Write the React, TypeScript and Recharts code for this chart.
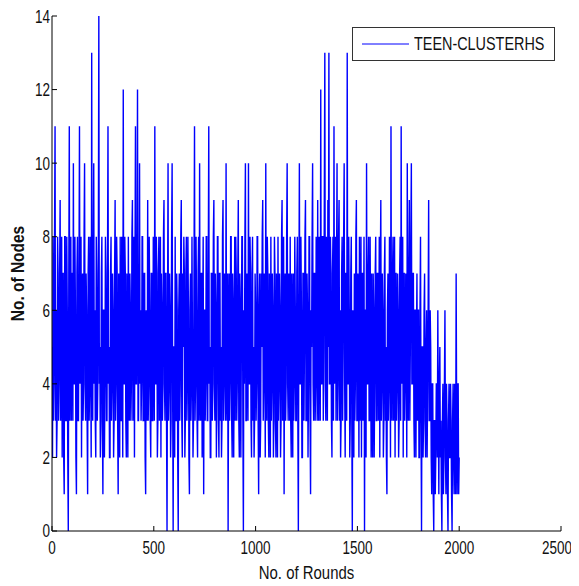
import React from 'react';
import { LineChart, Line, XAxis, YAxis, Legend } from 'recharts';

const seriesName = 'TEEN-CLUSTERHS';
const roundStep = 5;
const xTicks = [0, 500, 1000, 1500, 2000, 2500];
const yTicks = [0, 2, 4, 6, 8, 10, 12, 14];

// node counts read at rounds 0, 5, 10, ... (one row = 100 rounds)
const nodesA0 = [5, 8, 4, 11, 6, 3, 7, 4, 9, 5, 2, 7, 1, 8, 3, 6, 0, 11, 5, 3];
const nodesA1 = [7, 10, 4, 6, 1, 8, 3, 11, 5, 2, 7, 4, 10, 3, 6, 1, 8, 4, 5, 13];
const nodesA2 = [3, 10, 6, 2, 7, 4, 14, 5, 3, 8, 1, 6, 4, 7, 3, 11, 5, 2, 8, 4];
const nodesA3 = [6, 3, 9, 4, 7, 1, 5, 8, 3, 6, 12, 4, 7, 2, 5, 8, 3, 6, 4, 9];
const nodesA4 = [5, 2, 11, 4, 12, 3, 10, 6, 4, 8, 3, 7, 1, 5, 9, 4, 6, 2, 7, 3];
const nodesA5 = [6, 11, 4, 7, 3, 8, 5, 2, 6, 4, 9, 3, 7, 0, 10, 4, 6, 3, 10, 0];
const nodesA6 = [5, 8, 3, 6, 0, 7, 4, 9, 2, 5, 7, 3, 8, 4, 6, 1, 7, 4, 5, 3];
const nodesA7 = [11, 4, 6, 2, 8, 10, 3, 7, 5, 1, 6, 4, 8, 3, 11, 5, 2, 7, 4, 9];
const nodesA8 = [3, 6, 4, 8, 2, 7, 5, 3, 9, 4, 6, 10, 3, 0, 7, 4, 8, 2, 6, 5];
const nodesA9 = [3, 7, 4, 9, 2, 6, 5, 8, 0, 4, 10, 3, 6, 10, 4, 7, 2, 8, 5, 3];
const nodesA10 = [6, 4, 8, 1, 7, 3, 5, 9, 4, 6, 10, 3, 7, 2, 5, 8, 4, 6, 3, 7];
const nodesA11 = [2, 5, 8, 4, 6, 3, 9, 5, 1, 7, 4, 10, 3, 6, 8, 2, 5, 7, 4, 6];
const nodesA12 = [3, 8, 0, 10, 4, 6, 2, 7, 5, 9, 3, 6, 4, 8, 1, 5, 10, 3, 7, 4];
const nodesA13 = [6, 9, 3, 7, 12, 4, 8, 5, 13, 3, 6, 9, 13, 4, 7, 2, 8, 11, 5, 3];
const nodesA14 = [10, 4, 9, 6, 3, 8, 5, 10, 2, 7, 13, 4, 6, 3, 8, 0, 5, 7, 4, 9];
const nodesA15 = [3, 6, 8, 4, 2, 7, 5, 0, 6, 10, 4, 8, 3, 5, 7, 2, 6, 4, 8, 3];
const nodesA16 = [7, 5, 2, 9, 4, 6, 3, 8, 5, 1, 7, 4, 6, 11, 3, 8, 5, 2, 7, 4];
const nodesA17 = [6, 3, 8, 11, 5, 2, 7, 4, 6, 10, 3, 9, 5, 10, 4, 7, 2, 6, 5, 3];
const nodesA18 = [6, 2, 8, 0, 5, 3, 7, 2, 6, 4, 9, 3, 5, 1, 4, 0, 3, 2, 4, 6];
const nodesA19 = [1, 5, 3, 0, 4, 2, 6, 1, 3, 0, 4, 2, 3, 0, 4, 1, 3, 7, 1, 4];
const nodesAEnd = [2];

// node counts read at rounds 2.5, 7.5, 12.5, ...
const nodesB0 = [2, 3, 8, 3, 2, 8, 3, 7, 3, 8, 7, 2, 8, 3, 8, 2, 7, 3, 8, 7];
const nodesB1 = [3, 4, 8, 2, 7, 3, 7, 4, 8, 6, 3, 8, 4, 7, 3, 7, 3, 8, 2, 4];
const nodesB2 = [7, 4, 3, 8, 3, 7, 4, 2, 7, 3, 6, 2, 8, 3, 7, 4, 2, 7, 3, 7];
const nodesB3 = [2, 7, 3, 8, 3, 7, 2, 3, 8, 2, 4, 8, 3, 7, 2, 4, 7, 3, 8, 3];
const nodesB4 = [8, 7, 4, 7, 3, 6, 4, 3, 8, 3, 7, 2, 6, 3, 3, 8, 3, 7, 3, 8];
const nodesB5 = [3, 4, 8, 2, 7, 3, 8, 7, 3, 8, 4, 7, 3, 6, 3, 7, 2, 8, 4, 5];
const nodesB6 = [2, 3, 7, 2, 6, 3, 8, 3, 7, 8, 2, 7, 3, 8, 2, 6, 3, 8, 2, 7];
const nodesB7 = [3, 8, 3, 7, 3, 4, 7, 2, 8, 6, 3, 8, 3, 7, 4, 2, 7, 3, 8, 4];
const nodesB8 = [7, 2, 8, 3, 7, 3, 2, 8, 3, 7, 3, 4, 7, 5, 3, 8, 3, 7, 2, 8];
const nodesB9 = [8, 3, 7, 3, 7, 2, 8, 3, 6, 8, 3, 7, 3, 4, 8, 3, 7, 3, 2, 7];
const nodesB10 = [3, 8, 3, 6, 2, 7, 8, 3, 7, 2, 4, 8, 3, 7, 2, 3, 7, 2, 8, 3];
const nodesB11 = [7, 2, 3, 7, 2, 8, 3, 8, 6, 3, 8, 4, 7, 3, 3, 7, 2, 3, 8, 3];
const nodesB12 = [7, 3, 6, 4, 8, 2, 7, 3, 8, 3, 7, 2, 8, 3, 6, 8, 4, 7, 3, 8];
const nodesB13 = [3, 4, 8, 3, 4, 8, 3, 9, 4, 8, 3, 5, 4, 8, 3, 7, 3, 4, 8, 7];
const nodesB14 = [3, 8, 3, 2, 7, 3, 8, 4, 7, 3, 4, 8, 2, 7, 3, 6, 2, 3, 8, 3];
const nodesB15 = [7, 2, 3, 8, 7, 3, 8, 6, 2, 4, 7, 3, 8, 2, 3, 7, 2, 7, 3, 7];
const nodesB16 = [3, 8, 7, 3, 7, 2, 7, 3, 2, 6, 3, 8, 2, 4, 7, 3, 8, 7, 3, 7];
const nodesB17 = [2, 7, 3, 4, 8, 7, 3, 7, 2, 4, 7, 3, 8, 4, 7, 3, 6, 2, 7, 6];
const nodesB18 = [2, 6, 3, 5, 2, 6, 3, 5, 2, 6, 3, 6, 2, 4, 1, 3, 1, 4, 2, 3];
const nodesB19 = [4, 2, 1, 3, 1, 4, 2, 4, 1, 3, 2, 4, 1, 3, 2, 4, 1, 3, 4, 1];

const nodesA = [
  ...nodesA0, ...nodesA1, ...nodesA2, ...nodesA3, ...nodesA4,
  ...nodesA5, ...nodesA6, ...nodesA7, ...nodesA8, ...nodesA9,
  ...nodesA10, ...nodesA11, ...nodesA12, ...nodesA13, ...nodesA14,
  ...nodesA15, ...nodesA16, ...nodesA17, ...nodesA18, ...nodesA19,
  ...nodesAEnd,
];
const nodesB = [
  ...nodesB0, ...nodesB1, ...nodesB2, ...nodesB3, ...nodesB4,
  ...nodesB5, ...nodesB6, ...nodesB7, ...nodesB8, ...nodesB9,
  ...nodesB10, ...nodesB11, ...nodesB12, ...nodesB13, ...nodesB14,
  ...nodesB15, ...nodesB16, ...nodesB17, ...nodesB18, ...nodesB19,
];

const data: { round: number; nodes: number }[] = [];
nodesA.forEach((v, i) => {
  data.push({ round: i * roundStep, nodes: v });
  if (i < nodesB.length) data.push({ round: i * roundStep + roundStep / 2, nodes: nodesB[i] });
});

const FONT = "'Liberation Sans', Arial, sans-serif";

const XTick = (props: any) => {
  const { x, y, payload } = props;
  return (
    <text
      transform={`translate(${x},${y}) scale(0.75,1)`}
      textAnchor="middle"
      dy="0.71em"
      style={{ fontFamily: FONT, fontSize: 18, fill: '#111' }}
    >
      {payload.value}
    </text>
  );
};

const YTick = (props: any) => {
  const { x, y, payload } = props;
  return (
    <text
      transform={`translate(${x},${y}) scale(0.75,1)`}
      textAnchor="end"
      dy="0.355em"
      style={{ fontFamily: FONT, fontSize: 18, fill: '#111' }}
    >
      {payload.value}
    </text>
  );
};

const LegendBox = () => (
  <div
    style={{
      width: 203,
      height: 34,
      boxSizing: 'border-box',
      border: '1px solid #333',
      background: '#fff',
      position: 'relative',
      fontFamily: FONT,
      fontSize: 18,
      color: '#111',
    }}
  >
    <svg width={60} height={32} style={{ position: 'absolute', left: 0, top: 0 }}>
      <line x1={9} y1={16} x2={56} y2={16} stroke="#0000ff" strokeWidth={1} />
    </svg>
    <span
      style={{
        position: 'absolute',
        left: 61,
        top: 5,
        lineHeight: '22px',
        whiteSpace: 'nowrap',
        transform: 'scaleX(0.8)',
        transformOrigin: 'left center',
      }}
    >
      {seriesName}
    </span>
  </div>
);

const XLabel = (props: any) => {
  const vb = props.viewBox || {};
  const x = vb.x + vb.width / 2;
  const y = vb.y + vb.height - 4;
  return (
    <text
      transform={`translate(${x},${y}) scale(0.83,1)`}
      textAnchor="middle"
      style={{ fontFamily: FONT, fontSize: 18, fill: '#111' }}
    >
      No. of Rounds
    </text>
  );
};

const YLabel = (props: any) => {
  const vb = props.viewBox || {};
  const x = vb.x + 10;
  const y = vb.y + vb.height / 2;
  return (
    <text
      transform={`translate(${x},${y}) rotate(-90) scale(0.86,1)`}
      textAnchor="middle"
      dominantBaseline="central"
      style={{ fontFamily: FONT, fontSize: 18, fontWeight: 'bold', fill: '#111' }}
    >
      No. of Nodes
    </text>
  );
};

export default function App() {
  return (
    <div style={{ width: 565, height: 575, position: 'relative', background: '#fff' }}>
      <LineChart
        width={565}
        height={575}
        data={data}
        margin={{ top: 8, right: 12, bottom: 0, left: 0 }}
      >
        <XAxis
          dataKey="round"
          type="number"
          domain={[0, 2500]}
          ticks={xTicks}
          allowDataOverflow
          height={52}
          stroke="#000"
          tickSize={-5}
          tickMargin={15}
          tick={<XTick />}
          tickLine={{ stroke: '#000' }}
          axisLine={{ stroke: '#000' }}
          label={<XLabel />}
        />
        <XAxis
          xAxisId="top"
          orientation="top"
          type="number"
          domain={[0, 2500]}
          ticks={xTicks}
          height={0}
          tick={false}
          tickSize={-5}
          stroke="#000"
          tickLine={{ stroke: '#000' }}
          axisLine={{ stroke: '#000' }}
        />
        <YAxis
          type="number"
          domain={[0, 14]}
          ticks={yTicks}
          allowDataOverflow
          width={44}
          stroke="#000"
          tickSize={-5}
          tickMargin={7}
          tick={<YTick />}
          tickLine={{ stroke: '#000' }}
          axisLine={{ stroke: '#000' }}
          label={<YLabel />}
        />
        <YAxis
          yAxisId="right"
          orientation="right"
          type="number"
          domain={[0, 14]}
          ticks={yTicks}
          width={0}
          tick={false}
          tickSize={-5}
          stroke="#000"
          tickLine={{ stroke: '#000' }}
          axisLine={{ stroke: '#000' }}
        />
        <Legend
          layout="horizontal"
          verticalAlign="middle"
          align="center"
          content={<LegendBox />}
          wrapperStyle={{ position: 'absolute', left: 344, top: 19, width: 203, height: 34 }}
        />
        <Line
          type="linear"
          dataKey="nodes"
          name={seriesName}
          stroke="#0000ff"
          strokeWidth={1.4}
          dot={false}
          activeDot={false}
          isAnimationActive={false}
        />
      </LineChart>
    </div>
  );
}
